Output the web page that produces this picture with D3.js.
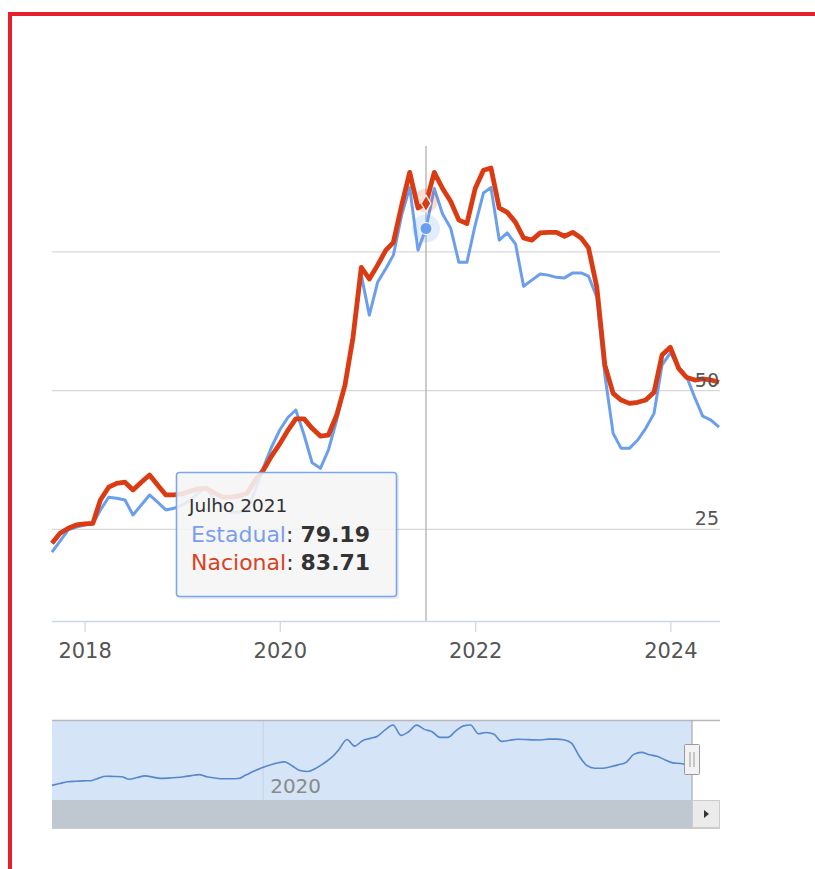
<!DOCTYPE html>
<html>
<head>
<meta charset="utf-8">
<script src="https://cdn.jsdelivr.net/npm/d3@7"></script>
<style>
  html, body { margin: 0; padding: 0; background: #fff; }
  svg { display: block; font-family: "DejaVu Sans", Verdana, sans-serif; }
</style>
</head>
<body>
<script>
// ---- data (monthly, Sep 2017 .. Jul 2024) ----
var months = d3.timeMonth.range(new Date(2017, 8, 1), new Date(2024, 7, 1));

var estadual = [
  20.9, 22.9, 24.9, 25.4, 25.8, 26.0, 28.5, 30.8, 30.6, 30.3, 27.6, 29.4,
  31.2, 29.9, 28.5, 28.8, 29.4, 30.3, 31.5, 32.6, 30.3, 29.0, 28.1, 28.1,
  28.3, 32.1, 36.2, 39.8, 42.9, 45.2, 46.5, 42.0, 37.0, 36.0, 39.3, 44.7,
  51.0, 60.0, 70.8, 63.6, 69.5, 72.0, 74.4, 81.6, 86.6, 75.3, 79.19, 86.4,
  81.8, 79.3, 73.1, 73.1, 79.8, 85.6, 86.6, 77.1, 78.4, 76.4, 68.8, 69.9,
  71.0, 70.8, 70.4, 70.3, 71.2, 71.2, 70.6, 66.8, 52.8, 42.3, 39.6, 39.6,
  41.1, 43.2, 45.9, 54.6, 56.8, 54.2, 52.6, 48.8, 45.4, 44.7, 43.4
];

var nacional = [
  22.5, 24.3, 25.2, 25.8, 26.0, 26.1, 30.3, 32.6, 33.3, 33.5, 32.1, 33.5,
  34.8, 33.0, 31.2, 31.2, 31.4, 31.9, 32.3, 32.4, 31.6, 30.8, 30.8, 31.0,
  31.5, 33.9, 35.7, 38.2, 40.4, 42.9, 44.9, 44.9, 43.2, 41.8, 42.0, 45.6,
  51.0, 59.6, 72.2, 70.1, 72.6, 75.3, 76.7, 83.4, 89.3, 82.9, 83.71, 89.3,
  86.4, 84.1, 80.7, 80.1, 86.4, 89.7, 90.1, 82.9, 82.1, 80.3, 77.5, 77.1,
  78.4, 78.5, 78.5, 77.8, 78.5, 77.5, 75.7, 68.6, 54.6, 49.5, 48.3, 47.7,
  47.9, 48.3, 49.7, 56.4, 57.8, 54.0, 52.4, 51.9, 52.1, 51.9, 51.5
];

var seriesNames = ["Estadual", "Nacional"];
var yTicks = [25, 50, 75];
var yLabelTicks = [25, 50];
var xTickYears = [2018, 2020, 2022, 2024];
var navTickYears = [2020];
var monthNames = ["Janeiro", "Fevereiro", "Março", "Abril", "Maio", "Junho",
  "Julho", "Agosto", "Setembro", "Outubro", "Novembro", "Dezembro"];
var hoverIndex = 46;

// ---- layout ----
var W = 815, H = 869;
var plot = {left: 52, right: 720, top: 113, bottom: 621};
var nav = {left: 52, right: 720, top: 720, bottom: 800, handle: 692};
var blueColor = "#6b9fee", redColor = "#db3b13";

var svg = d3.select("body").append("svg")
  .attr("width", W)
  .attr("height", H);

// red frame
svg.append("rect").attr("x", 0).attr("y", 0).attr("width", W).attr("height", H).attr("fill", "#fff");
svg.append("path")
  .attr("d", "M10," + H + " L10,14 L" + W + ",14")
  .attr("fill", "none")
  .attr("stroke", "#e5202b")
  .attr("stroke-width", 4);

var x = d3.scaleTime()
  .domain([months[0], months[months.length - 1]])
  .range([plot.left, 719]);

var y = d3.scaleLinear()
  .domain([8.5, 100])
  .range([plot.bottom, plot.top]);

// grid lines
svg.append("g").selectAll("line")
  .data(yTicks).enter().append("line")
  .attr("x1", plot.left).attr("x2", plot.right)
  .attr("y1", function(d) { return y(d); })
  .attr("y2", function(d) { return y(d); })
  .attr("stroke", "#d8d8d8")
  .attr("stroke-width", 1.2);

// x axis
var xAxis = d3.axisBottom(x)
  .tickValues(xTickYears.map(function(d) { return new Date(d, 0, 1); }))
  .tickFormat(d3.timeFormat("%Y"))
  .tickSize(11)
  .tickPadding(11);

var gx = svg.append("g")
  .attr("transform", "translate(0," + plot.bottom + ")")
  .call(xAxis);
gx.select(".domain").remove();
gx.selectAll(".tick line").attr("stroke", "#ccd6eb").attr("stroke-width", 1.2);
gx.selectAll(".tick text")
  .attr("fill", "#555")
  .style("font-size", "21px")
  .style("font-family", "DejaVu Sans, Verdana, sans-serif");
svg.append("line")
  .attr("x1", plot.left).attr("x2", plot.right)
  .attr("y1", plot.bottom + 0.5).attr("y2", plot.bottom + 0.5)
  .attr("stroke", "#ccd6eb").attr("stroke-width", 1.3);

// crosshair
var hx = x(months[hoverIndex]);
svg.append("line")
  .attr("x1", hx).attr("x2", hx)
  .attr("y1", 146).attr("y2", plot.bottom)
  .attr("stroke", "#b0b0b0")
  .attr("stroke-width", 1.3);

// lines
var line = d3.line()
  .x(function(d, i) { return x(months[i]); })
  .y(function(d) { return y(d); });

svg.append("path")
  .datum(estadual)
  .attr("d", line)
  .attr("fill", "none")
  .attr("stroke", blueColor)
  .attr("stroke-width", 3)
  .attr("stroke-linejoin", "round");

svg.append("path")
  .datum(nacional)
  .attr("d", line)
  .attr("fill", "none")
  .attr("stroke", redColor)
  .attr("stroke-width", 4.8)
  .attr("stroke-linejoin", "round");

// y labels (drawn inside plot on the right)
svg.append("g").selectAll("text")
  .data(yLabelTicks).enter().append("text")
  .attr("x", plot.right - 1)
  .attr("y", function(d) { return y(d) - 4; })
  .attr("text-anchor", "end")
  .attr("fill", "#555")
  .style("font-size", "19px")
  .text(function(d) { return d; });

// hover markers
var by = y(estadual[hoverIndex]), ry = y(nacional[hoverIndex]);
svg.append("circle").attr("cx", hx).attr("cy", by).attr("r", 14)
  .attr("fill", blueColor).attr("fill-opacity", 0.2);
svg.append("circle").attr("cx", hx).attr("cy", ry - 3).attr("r", 12)
  .attr("fill", redColor).attr("fill-opacity", 0.18);
svg.append("circle").attr("cx", hx).attr("cy", by).attr("r", 6)
  .attr("fill", blueColor).attr("stroke", "#fff").attr("stroke-width", 1);
svg.append("path")
  .attr("d", d3.symbol().type(d3.symbolDiamond).size(80))
  .attr("transform", "translate(" + hx + "," + ry + ")")
  .attr("fill", redColor).attr("stroke", "#fff").attr("stroke-width", 1.2);

// tooltip
var tip = svg.append("g").attr("transform", "translate(176,472)");
tip.append("rect")
  .attr("x", 2).attr("y", 2).attr("width", 221).attr("height", 125)
  .attr("rx", 3)
  .attr("fill", "#000").attr("fill-opacity", 0.08);
tip.append("rect")
  .attr("x", 0.5).attr("y", 0.5).attr("width", 220).attr("height", 124)
  .attr("rx", 3)
  .attr("fill", "#f7f7f7").attr("fill-opacity", 0.88)
  .attr("stroke", "#7aa7ee").attr("stroke-width", 1.6);
var d0 = months[hoverIndex];
tip.append("text")
  .attr("x", 13).attr("y", 40)
  .attr("fill", "#333")
  .style("font-size", "18.5px")
  .text(monthNames[d0.getMonth()] + " " + d0.getFullYear());

var rows = [
  {name: seriesNames[0], value: estadual[hoverIndex], color: "#7b9df0"},
  {name: seriesNames[1], value: nacional[hoverIndex], color: "#d8421f"}
];
rows.forEach(function(r, i) {
  var t = tip.append("text")
    .attr("x", 15).attr("y", 70 + i * 28)
    .style("font-size", "22px");
  t.append("tspan").attr("fill", r.color).text(r.name);
  t.append("tspan").attr("fill", "#333").text(": ");
  t.append("tspan").attr("fill", "#333").attr("font-weight", "bold").text(r.value.toFixed(2));
});

// ---- navigator ----
var nx = d3.scaleTime()
  .domain([months[0], months[months.length - 1]])
  .range([nav.left, 688]);
var ny = d3.scaleLinear()
  .domain([5, 92])
  .range([nav.bottom, nav.top]);

svg.append("rect")
  .attr("x", nav.left).attr("y", nav.top)
  .attr("width", nav.handle - nav.left).attr("height", nav.bottom - nav.top)
  .attr("fill", "#d5e4f6");

svg.append("g").selectAll("line")
  .data(navTickYears).enter().append("line")
  .attr("x1", function(d) { return nx(new Date(d, 0, 1)) - 6; })
  .attr("x2", function(d) { return nx(new Date(d, 0, 1)) - 6; })
  .attr("y1", nav.top).attr("y2", nav.bottom)
  .attr("stroke", "#c5d3e4");

svg.append("g").selectAll("text")
  .data(navTickYears).enter().append("text")
  .attr("x", function(d) { return nx(new Date(d, 0, 1)) + 1; })
  .attr("y", 793)
  .attr("fill", "#8a8a8a")
  .style("font-size", "20px")
  .text(function(d) { return d; });

var navLine = d3.line()
  .curve(d3.curveMonotoneX)
  .x(function(d, i) { return nx(months[i]); })
  .y(function(d) { return ny(d); });

svg.append("path")
  .datum(estadual)
  .attr("d", navLine)
  .attr("fill", "none")
  .attr("stroke", "#5588cc")
  .attr("stroke-width", 1.6);

svg.append("line")
  .attr("x1", nav.left).attr("x2", nav.right)
  .attr("y1", nav.top + 0.5).attr("y2", nav.top + 0.5)
  .attr("stroke", "#b8b8bc").attr("stroke-width", 1.5);

svg.append("line")
  .attr("x1", nav.handle).attr("x2", nav.handle)
  .attr("y1", nav.top).attr("y2", nav.bottom)
  .attr("stroke", "#aaa").attr("stroke-width", 1.2);

// handle
svg.append("rect")
  .attr("x", nav.handle - 7.5).attr("y", 744.5)
  .attr("width", 15).attr("height", 30)
  .attr("rx", 1)
  .attr("fill", "#f2f2f2").attr("stroke", "#999");
[-2, 2].forEach(function(o) {
  svg.append("line")
    .attr("x1", nav.handle + o).attr("x2", nav.handle + o)
    .attr("y1", 752).attr("y2", 767)
    .attr("stroke", "#999");
});

// scrollbar
svg.append("rect")
  .attr("x", nav.left).attr("y", nav.bottom)
  .attr("width", nav.handle - nav.left).attr("height", 28)
  .attr("fill", "#bfc8d1");
svg.append("rect")
  .attr("x", nav.handle + 0.5).attr("y", nav.bottom + 0.5)
  .attr("width", nav.right - nav.handle - 1).attr("height", 27)
  .attr("fill", "#ebebeb").attr("stroke", "#ccc");
svg.append("path")
  .attr("d", "M704,810 L709,814 L704,818 Z")
  .attr("fill", "#333");
svg.append("line")
  .attr("x1", nav.left).attr("x2", nav.right)
  .attr("y1", 828.5).attr("y2", 828.5)
  .attr("stroke", "#ccc");
</script>
</body>
</html>
